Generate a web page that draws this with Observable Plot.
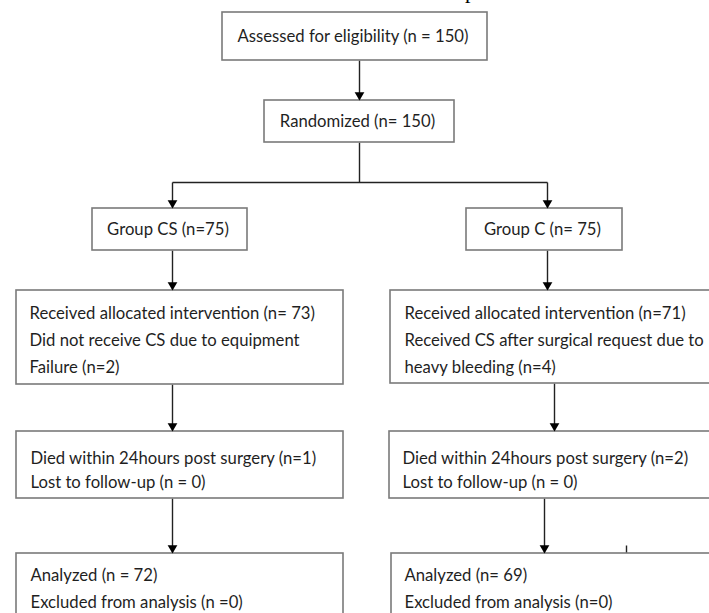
<!DOCTYPE html>
<html><head><meta charset="utf-8">
<script src="https://cdn.jsdelivr.net/npm/d3@7"></script>
<script src="https://cdn.jsdelivr.net/npm/@observablehq/plot@0.6"></script>
<style>html,body{margin:0;padding:0;background:#fff;overflow:hidden}</style>
</head><body><div id="chart"></div>
<script>
// ---- content ----
const headerText = "ts of the process of CS 1.";
const screeningLabels = ["Assessed for eligibility (n = 150)", "Randomized (n= 150)"];
const groupLabels = ["Group CS (n=75)", "Group C (n= 75)"];
const allocationCS = ["Received allocated intervention (n= 73)", "Did not receive CS due to equipment", "Failure (n=2)"];
const allocationC = ["Received allocated intervention (n=71)", "Received CS after surgical request due to", "heavy bleeding (n=4)"];
const followUpCS = ["Died within 24hours post surgery (n=1)", "Lost to follow-up (n = 0)"];
const followUpC = ["Died within 24hours post surgery (n=2)", "Lost to follow-up (n = 0)"];
const analysisCS = ["Analyzed (n = 72)", "Excluded from analysis (n =0)"];
const analysisC = ["Analyzed (n= 69)", "Excluded from analysis (n=0)"];

// ---- layout (pixel space of the figure) ----
const W = 709, H = 613;
const boxes = [
  {x1:222, x2:487, y1:12,  y2:60,  lines:[screeningLabels[0]], center:true},
  {x1:264, x2:454, y1:100, y2:142, lines:[screeningLabels[1]], center:true},
  {x1:92,  x2:247, y1:208, y2:250, lines:[groupLabels[0]], center:true},
  {x1:466, x2:622, y1:208, y2:250, lines:[groupLabels[1]], center:true},
  {x1:16,  x2:343, y1:290, y2:384, lines:allocationCS, pad:13, first:23, step:27},
  {x1:390, x2:730, y1:290, y2:383, lines:allocationC,  pad:14, first:23, step:27},
  {x1:16,  x2:343, y1:431, y2:498, lines:followUpCS,   pad:14, first:27, step:24},
  {x1:389, x2:730, y1:431, y2:498, lines:followUpC,    pad:13, first:27, step:24},
  {x1:16,  x2:343, y1:553, y2:640, lines:analysisCS,   pad:14, first:22, step:27},
  {x1:391, x2:730, y1:553, y2:640, lines:analysisC,    pad:13, first:22, step:27}
];
const connectors = [
  {x1:359, y1:60,  x2:359, y2:100, head:true},
  {x1:359, y1:142, x2:359, y2:182, head:false},
  {x1:172, y1:182, x2:547, y2:182, head:false},
  {x1:172, y1:182, x2:172, y2:208, head:true},
  {x1:547, y1:182, x2:547, y2:208, head:true},
  {x1:172, y1:250, x2:172, y2:290, head:true},
  {x1:547, y1:250, x2:547, y2:290, head:true},
  {x1:172, y1:384, x2:172, y2:431, head:true},
  {x1:554, y1:383, x2:554, y2:431, head:true},
  {x1:172, y1:498, x2:172, y2:553, head:true},
  {x1:544, y1:498, x2:544, y2:553, head:true},
  {x1:626, y1:545, x2:626, y2:553, head:false}
];

// ---- derived tables ----
const centerRows = [], leftRows = [];
for (const b of boxes) {
  b.lines.forEach((t, i) => {
    if (b.center) centerRows.push({x:(b.x1+b.x2)/2 - 2, y:(b.y1+b.y2)/2, text:t});
    else leftRows.push({x:b.x1 + b.pad, y:b.y1 + b.first + i*b.step, text:t});
  });
}
const heads = connectors.filter(d => d.head).map(d => ({x:d.x2, y:d.y2 - 5.5}));

const FONT = "Lato, 'Open Sans', sans-serif";
const textStyle = {fontSize:16.7, fill:"#1f1f1f", fontFamily:FONT};
const chart = Plot.plot({
  width: W, height: H, margin: 0,
  x: {domain:[0, W], range:[0, W], axis:null},
  y: {domain:[0, H], range:[0, H], axis:null},
  style: {background:"#fff", fontFamily: FONT},
  marks: [
    Plot.text([headerText], {x:388, y:-2.5, text:d=>d, textAnchor:"start", lineAnchor:"bottom",
      fontSize:22, fontFamily:"'Liberation Serif', 'DejaVu Serif', serif", fill:"#000"}),
    Plot.link(connectors, {x1:"x1", y1:"y1", x2:"x2", y2:"y2", stroke:"#222", strokeWidth:1.4}),
    Plot.rect(boxes, {x1:"x1", x2:"x2", y1:"y1", y2:"y2", fill:"#fff", stroke:"#7a7a7a", strokeWidth:1.6}),
    Plot.dot(heads, {x:"x", y:"y", symbol:"triangle", rotate:180, r:3.6, fill:"#000", stroke:"none"}),
    Plot.text(centerRows, {x:"x", y:"y", text:"text", textAnchor:"middle", ...textStyle}),
    Plot.text(leftRows, {x:"x", y:"y", text:"text", textAnchor:"start", ...textStyle})
  ]
});
document.getElementById("chart").appendChild(chart);
</script>
</body></html>
